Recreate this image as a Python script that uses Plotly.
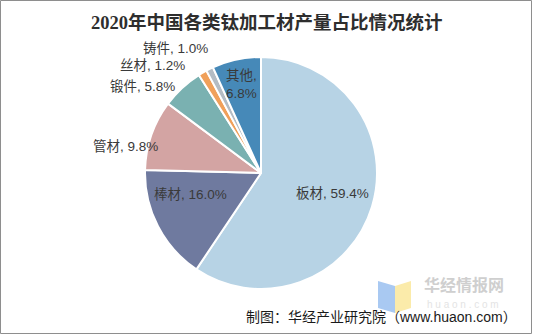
import numpy as np
import plotly.graph_objects as go

# Share of China's titanium mill products by category, 2020 (%)
categories = ["板材", "棒材", "管材", "锻件", "丝材", "铸件", "其他"]
shares = [59.4, 16.0, 9.8, 5.8, 1.2, 1.0, 6.8]
colors = ["#B7D3E5", "#6F7A9F", "#D3A4A3", "#7AB1B1", "#F0A05A", "#B4BCC4", "#4689B8"]

# label placement: radius factor and angular nudge (deg) relative to slice mid-angle
label_r = [0.64, 0.64, 1.19, 1.26, 1.32, 1.30, 0.78]
label_dang = [-1.2, 10.2, -8.2, -11.1, -15.1, -8.4, 0.0]
label_sep = [", ", ", ", ", ", ", ", ", ", ", ", ",<br>"]

W, H = 533, 335
# pie box in pixels (left, right, top, bottom)
px_l, px_r, px_t, px_b = 145, 377, 57, 289
cx, cy = (px_l + px_r) / 2, (px_t + px_b) / 2
R = min(px_r - px_l, px_b - px_t) / 2

LABEL_FONT = "Liberation Sans, Noto Sans CJK SC, sans-serif"

fig = go.Figure(
    go.Pie(
        labels=categories,
        values=shares,
        sort=False,
        direction="clockwise",
        rotation=0,
        textinfo="none",
        hoverinfo="label+percent",
        marker=dict(colors=colors, line=dict(color="white", width=2)),
        domain=dict(x=[px_l / W, px_r / W], y=[1 - px_b / H, 1 - px_t / H]),
    )
)

vals = np.array(shares)
frac = vals / vals.sum()
mid = (np.cumsum(frac) - frac / 2) * 360.0

annotations = []
for cat, v, m, k, d, sep in zip(categories, shares, mid, label_r, label_dang, label_sep):
    a = np.radians(m + d)
    x = cx + k * R * np.sin(a)
    y = cy - k * R * np.cos(a)
    annotations.append(dict(
        x=x / W, y=1 - y / H, xref="paper", yref="paper",
        text=f"{cat}{sep}{v:.1f}%", showarrow=False,
        xanchor="center", yanchor="middle",
        font=dict(family=LABEL_FONT, size=13.5, color="#3A3A3A"),
    ))

# title
annotations.append(dict(
    x=0.5, y=1 - 22 / H, xref="paper", yref="paper",
    text="<b>2020年中国各类钛加工材产量占比情况统计</b>", showarrow=False,
    xanchor="center", yanchor="middle",
    font=dict(family="Liberation Serif, Noto Sans CJK SC, serif", size=18.5, color="#2E2E2E"),
))

# watermark
annotations.append(dict(
    x=464 / W, y=1 - 284 / H, xref="paper", yref="paper",
    text="<b>华经情报网</b>", showarrow=False, xanchor="center", yanchor="middle",
    font=dict(family="Noto Sans CJK SC, sans-serif", size=16, color="#CFCFCF"),
))
annotations.append(dict(
    x=463 / W, y=1 - 304 / H, xref="paper", yref="paper",
    text="h u a o n . c o m", showarrow=False, xanchor="center", yanchor="middle",
    font=dict(family="Liberation Sans, sans-serif", size=10, color="#E4E4E4"),
))

# source line
annotations.append(dict(
    x=519 / W, y=1 - 317 / H, xref="paper", yref="paper",
    text="制图：华经产业研究院（www.huaon.com）", showarrow=False,
    xanchor="right", yanchor="middle",
    font=dict(family="Liberation Sans, Noto Sans CJK SC, sans-serif", size=14, color="#1A1A1A"),
))


def pp(px, py):
    return f"{px / W:.5f},{1 - py / H:.5f}"


shapes = [
    # logo: two folded panels
    dict(type="path", xref="paper", yref="paper",
         path=f"M{pp(378, 281)} L{pp(395, 286)} L{pp(395, 313)} L{pp(378, 308)} Z",
         fillcolor="#A9C9F2", line=dict(width=0), layer="below"),
    dict(type="path", xref="paper", yref="paper",
         path=f"M{pp(395, 286)} L{pp(411, 281)} L{pp(411, 308)} L{pp(395, 313)} Z",
         fillcolor="#FBEBAA", line=dict(width=0), layer="below"),
    # outer frame
    dict(type="rect", xref="paper", yref="paper",
         x0=0.5 / W, x1=1 - 1.5 / W, y0=1.5 / H, y1=1 - 0.5 / H,
         line=dict(color="#8E8E8E", width=1), fillcolor="rgba(0,0,0,0)"),
]

fig.update_layout(
    width=W, height=H,
    margin=dict(l=0, r=0, t=0, b=0),
    paper_bgcolor="white", plot_bgcolor="white",
    showlegend=False,
    annotations=annotations,
    shapes=shapes,
)

fig.write_html("out.html")
